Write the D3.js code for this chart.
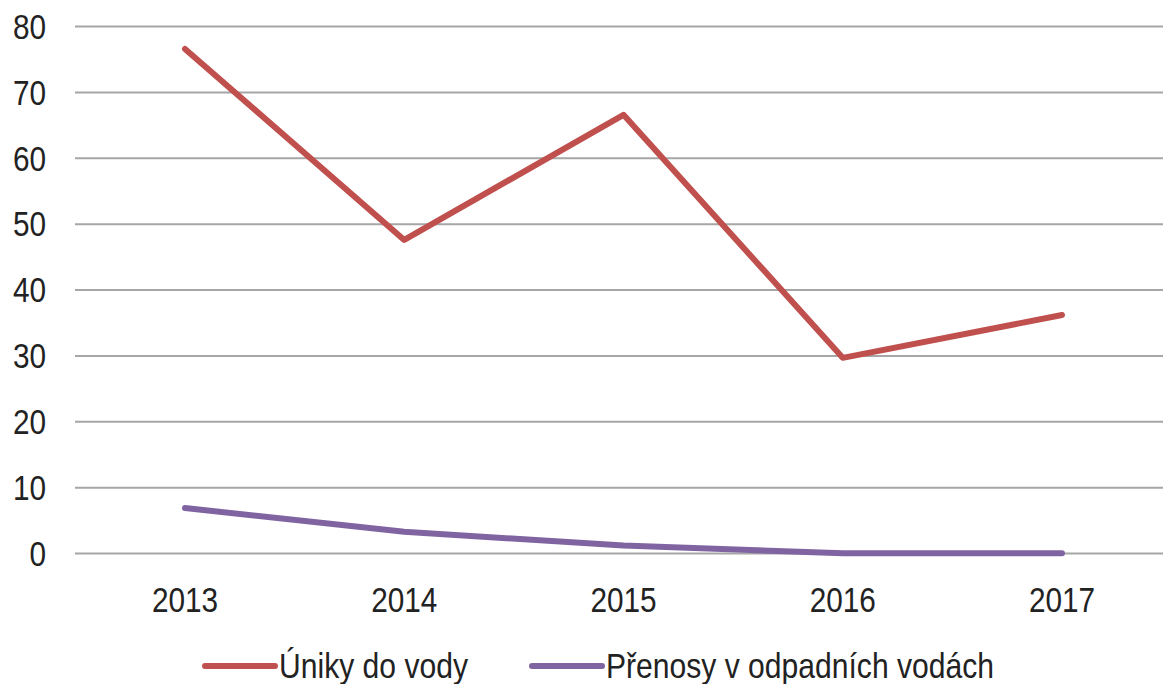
<!DOCTYPE html>
<html>
<head>
<meta charset="utf-8">
<script src="https://cdn.jsdelivr.net/npm/d3@7"></script>
<style>
  body { margin: 0; background: #fff; }
  text { font-family: "Liberation Sans Narrow", "Liberation Sans", sans-serif; fill: #222; }
</style>
</head>
<body>
<script>
const svgWidth = 1163
const svgHeight = 684

const years = ["2013", "2014", "2015", "2016", "2017"]
const unikyDoVody = [76.6, 47.6, 66.6, 29.7, 36.2]
const prenosyOdpadni = [6.9, 3.3, 1.2, 0.05, 0.05]
const yTicks = [0, 10, 20, 30, 40, 50, 60, 70, 80]

const seriesNames = ["Úniky do vody", "Přenosy v odpadních vodách"]
const seriesColors = ["#C0504D", "#8064A2"]

// squeeze the text a bit so it looks like the narrow font in the original
const squeeze = 0.85

const svg = d3.select("body").append("svg")
    .attr("width", svgWidth)
    .attr("height", svgHeight)

const x = d3.scalePoint()
    .domain(years)
    .range([185, 1062])

const y = d3.scaleLinear()
    .domain([0, 80])
    .range([553.5, 26.5])

// gridlines
svg.append("g")
    .selectAll("line")
    .data(yTicks)
    .join("line")
    .attr("x1", 75)
    .attr("x2", svgWidth)
    .attr("y1", d => y(d))
    .attr("y2", d => y(d))
    .attr("stroke", "#a6a6a6")
    .attr("stroke-width", 2)

// y labels
svg.append("g")
    .selectAll("text")
    .data(yTicks)
    .join("text")
    .attr("transform", d => `translate(46, ${y(d)}) scale(${squeeze}, 1)`)
    .attr("dy", "0.35em")
    .attr("text-anchor", "end")
    .attr("font-size", 35)
    .text(d => d)

// x labels
svg.append("g")
    .selectAll("text")
    .data(years)
    .join("text")
    .attr("transform", d => `translate(${x(d)}, 612) scale(${squeeze}, 1)`)
    .attr("text-anchor", "middle")
    .attr("font-size", 35)
    .text(d => d)

const line = d3.line()
    .x((d, i) => x(years[i]))
    .y(d => y(d))

;[unikyDoVody, prenosyOdpadni].forEach((values, i) => {
    svg.append("path")
        .attr("d", line(values))
        .attr("fill", "none")
        .attr("stroke", seriesColors[i])
        .attr("stroke-width", 6)
        .attr("stroke-linejoin", "round")
        .attr("stroke-linecap", "round")
})

// legend
const legendX = [205, 532]
const legend = svg.append("g")
    .selectAll("g")
    .data(seriesNames)
    .join("g")
    .attr("transform", (d, i) => `translate(${legendX[i]}, 666)`)

legend.append("line")
    .attr("x1", 0)
    .attr("x2", 70)
    .attr("stroke", (d, i) => seriesColors[i])
    .attr("stroke-width", 6)
    .attr("stroke-linecap", "round")

legend.append("text")
    .attr("transform", `translate(74, 0) scale(0.86, 1)`)
    .attr("dy", "0.33em")
    .attr("font-size", 35)
    .text(d => d)
</script>
</body>
</html>
